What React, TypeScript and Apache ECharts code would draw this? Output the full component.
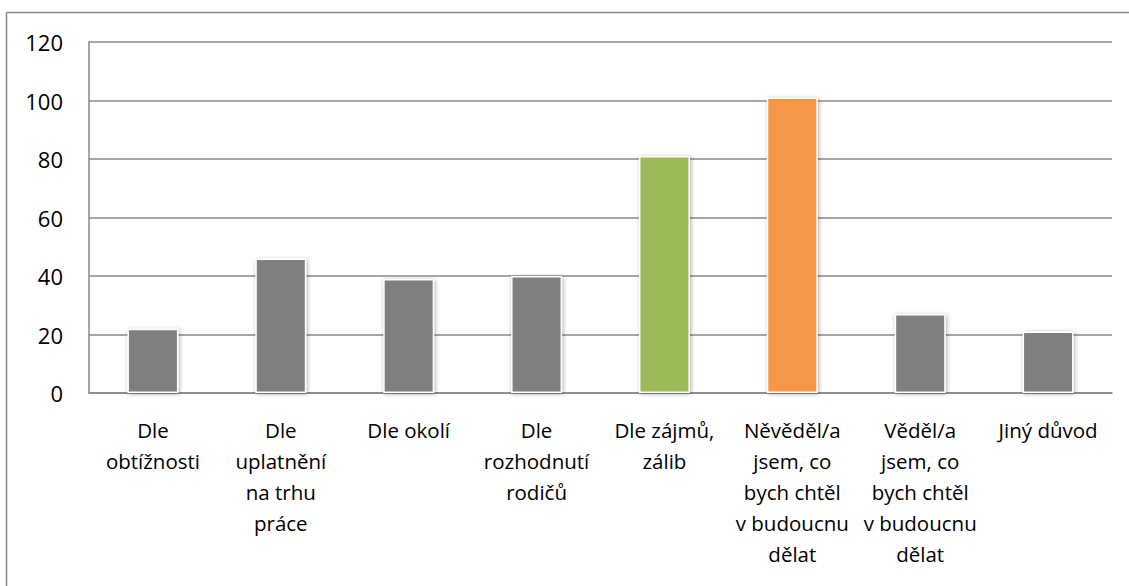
import React, { useEffect, useRef } from "react";
import * as echarts from "echarts";

const categories = [
  "Dle\nobtížnosti",
  "Dle\nuplatnění\nna trhu\npráce",
  "Dle okolí",
  "Dle\nrozhodnutí\nrodičů",
  "Dle zájmů,\nzálib",
  "Něvěděl/a\njsem, co\nbych chtěl\nv budoucnu\ndělat",
  "Věděl/a\njsem, co\nbych chtěl\nv budoucnu\ndělat",
  "Jiný důvod",
];
const values = [22, 46, 39, 40, 81, 101, 27, 21];
const barColors = ["#7f7f7f", "#7f7f7f", "#7f7f7f", "#7f7f7f", "#9bbb59", "#f79646", "#7f7f7f", "#7f7f7f"];
const yTicks = { min: 0, max: 120, interval: 20 };

export default function App() {
  const ref = useRef<HTMLDivElement>(null);
  useEffect(() => {
    if (!ref.current) return;
    const chart = echarts.init(ref.current, null, { renderer: "svg" });
    const font = "'Open Sans', 'Noto Sans', sans-serif";
    chart.setOption({
      animation: false,
      backgroundColor: "#ffffff",
      graphic: [
        { type: "line", shape: { x1: 6.5, y1: 12.5, x2: 1129, y2: 12.5 }, style: { stroke: "#888888", lineWidth: 1.5 } },
        { type: "line", shape: { x1: 6.5, y1: 12.5, x2: 6.5, y2: 586 }, style: { stroke: "#888888", lineWidth: 1.5 } },
      ],
      grid: { left: 89, right: 17, top: 42, bottom: 193, containLabel: false },
      xAxis: {
        type: "category",
        data: categories,
        axisLine: { show: true, lineStyle: { color: "#888888", width: 1.5 } },
        axisTick: { show: false },
        axisLabel: {
          interval: 0,
          color: "#000000",
          fontFamily: font,
          fontSize: 20.5,
          lineHeight: 31,
          margin: 21,
          align: "center",
        },
      },
      yAxis: {
        type: "value",
        min: yTicks.min,
        max: yTicks.max,
        interval: yTicks.interval,
        axisLine: { show: true, lineStyle: { color: "#888888", width: 1.5 } },
        axisTick: { show: false },
        splitLine: { show: true, lineStyle: { color: "#888888", width: 1.5 } },
        axisLabel: {
          color: "#000000",
          fontFamily: font,
          fontSize: 22,
          margin: 26,
        },
      },
      series: [
        {
          type: "bar",
          data: values.map((v, i) => ({ value: v, itemStyle: { color: barColors[i] } })),
          barWidth: 51,
          itemStyle: {
            borderColor: "#ffffff",
            borderWidth: 1.5,
            shadowBlur: 4,
            shadowColor: "rgba(0,0,0,0.35)",
            shadowOffsetX: 1,
            shadowOffsetY: 1,
          },
        },
      ],
    });
    return () => chart.dispose();
  }, []);
  return <div ref={ref} style={{ width: 1129, height: 586, position: "absolute", left: 0, top: 0 }} />;
}
